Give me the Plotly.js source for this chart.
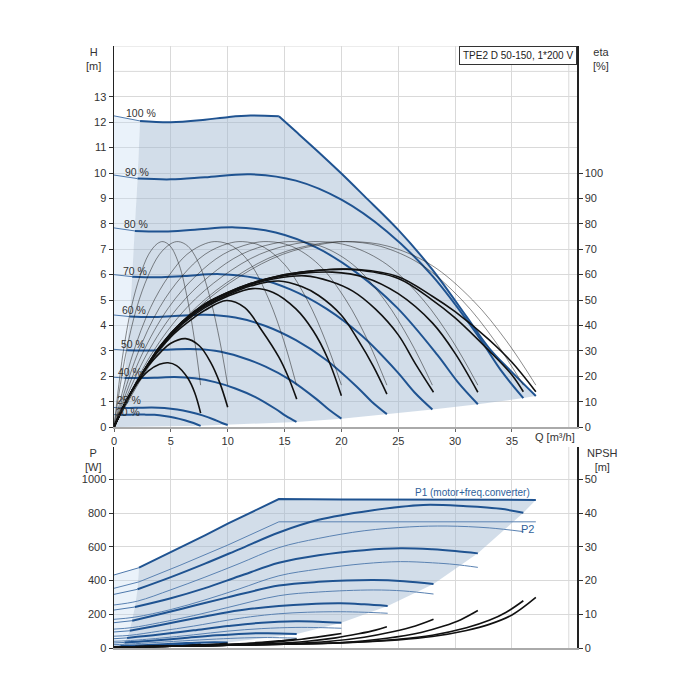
<!DOCTYPE html>
<html><head><meta charset="utf-8">
<script src="https://cdn.plot.ly/plotly-3.0.1.min.js"></script>
<style>html,body{margin:0;padding:0;background:#fff}</style>
</head><body><div id="chart" style="width:700px;height:700px"></div>
<script>
// ---------- TOP: head curves per speed (Q m3/h, H m); index 1 = min-flow boundary ----------
const speedLabels = ["100 %","90 %","80 %","70 %","60 %","50 %","40 %","25 %","20 %"];
const labelQ = [2.4, 2.0, 1.95, 1.85, 1.76, 1.64, 1.41, 1.35, 1.2];
const labelH = [12.37, 10.05, 8.0, 6.16, 4.61, 3.26, 2.18, 1.08, 0.6];

const s100Q = [0, 2.29, 5, 8, 10, 12, 14.5];
const s100H = [12.25, 12.05, 12.0, 12.1, 12.2, 12.26, 12.23];
const maxQ = [14.5, 16, 18, 20, 22, 25, 28, 31, 33, 34.8, 37.1];
const maxH = [12.23, 11.63, 10.82, 9.98, 9.1, 7.76, 6.2, 4.35, 3.1, 2.25, 1.22];
const s90Q = [0, 2.07, 5, 8, 12, 16, 20, 24, 28, 32, 34, 36];
const s90H = [9.92, 9.78, 9.75, 9.83, 9.95, 9.7, 8.95, 7.7, 5.95, 3.6, 2.25, 1.14];
const s80Q = [0, 1.84, 4.44, 7.11, 10.67, 14.22, 17.78, 21.33, 24.89, 28.44, 30.22, 32];
const s80H = [7.84, 7.72, 7.70, 7.77, 7.86, 7.66, 7.07, 6.08, 4.70, 2.84, 1.78, 0.90];
const s70Q = [0, 1.6, 3.89, 6.22, 9.33, 12.44, 15.56, 18.67, 21.78, 24.89, 26.44, 28];
const s70H = [6.0, 5.92, 5.90, 5.95, 6.02, 5.87, 5.41, 4.66, 3.60, 2.18, 1.36, 0.69];
const s60Q = [0, 1.38, 3.33, 5.33, 8, 10.67, 13.33, 16, 18.67, 21.33, 22.67, 24];
const s60H = [4.41, 4.35, 4.33, 4.37, 4.42, 4.31, 3.98, 3.42, 2.64, 1.60, 1.0, 0.51];
const s50Q = [0, 1.15, 2.78, 4.44, 6.67, 8.89, 11.11, 13.33, 15.56, 17.78, 18.89, 20];
const s50H = [3.06, 3.02, 3.01, 3.04, 3.07, 3.0, 2.76, 2.38, 1.84, 1.11, 0.69, 0.33];
const s40Q = [0, 0.92, 2.22, 3.56, 5.33, 7.11, 8.89, 10.67, 12.44, 14.22, 15.11, 16.05];
const s40H = [1.96, 1.93, 1.93, 1.94, 1.97, 1.92, 1.77, 1.52, 1.18, 0.71, 0.44, 0.2];
const s25Q = [0, 0.57, 1.39, 2.22, 3.33, 4.44, 5.56, 6.67, 7.78, 8.89, 9.44, 10];
const s25H = [0.77, 0.75, 0.75, 0.76, 0.77, 0.75, 0.69, 0.59, 0.46, 0.28, 0.17, 0.08];
const s20Q = [0, 0.46, 1.11, 1.78, 2.67, 3.56, 4.44, 5.33, 6.22, 7.0, 7.62];
const s20H = [0.49, 0.48, 0.48, 0.49, 0.49, 0.48, 0.44, 0.37, 0.27, 0.16, 0.05];

// ---------- TOP: total efficiency (thick black, eta %) ----------
const t20Q = [0, 1, 2, 3, 4, 4.75, 5.5, 6.5, 7.1, 7.62];
const t20E = [0, 9.5, 17, 22, 24.7, 25.3, 24.2, 19.2, 13.5, 5.5];
const t25Q = [0, 1, 2, 3, 4, 5, 6.3, 7.5, 8.5, 9.3, 10];
const t25E = [0, 9.5, 17.5, 24, 29, 33, 34.8, 32, 25.5, 17.5, 7.8];
const t40Q = [0, 1, 2, 3, 4, 5, 6, 7, 8, 9.9, 11.5, 13, 14.5, 15.3, 16.07];
const t40E = [0, 9.5, 17.5, 24.5, 30.5, 35.5, 39.5, 43, 46, 49.8, 47, 38, 27.5, 20, 11];
const t50Q = [0, 1, 2, 4, 6, 8, 10, 12.2, 14, 16, 17.5, 18.8, 20];
const t50E = [0, 9.5, 17.5, 31, 40.5, 47, 51.5, 54.5, 53, 46.5, 38, 27, 12.3];
const t60Q = [0, 1, 2, 4, 6, 8, 10, 12, 14.5, 16.5, 18, 20, 21.5, 22.8, 24];
const t60E = [0, 9.5, 17.5, 31, 41, 47.5, 52, 55.5, 57.5, 55.3, 51.8, 44, 34, 24, 13];
const t70Q = [0, 1, 2, 4, 6, 8, 10, 12, 14, 16.8, 19, 21, 23, 25, 26.5, 28.1];
const t70E = [0, 9.5, 17.5, 31.2, 41.2, 48, 52.5, 56, 58.3, 59.5, 57.4, 53.5, 46.4, 36.3, 25, 13.7];
const t80Q = [0, 1, 2, 4, 6, 8, 10, 12, 14, 16.5, 19.2, 22, 25, 28, 30, 32];
const t80E = [0, 9.5, 17.5, 31.3, 41.3, 48.3, 52.8, 56.3, 58.8, 60.5, 61, 59, 52.5, 41, 29, 13.7];
const t90Q = [0, 1, 2, 4, 6, 8, 10, 12, 14, 16.5, 19, 21, 25, 28, 30, 33, 35, 36];
const t90E = [0, 9.5, 17.5, 31.5, 41.5, 48.5, 53, 56.5, 59, 61, 62, 62, 58.5, 50, 43, 30, 20.5, 13.9];
const t100Q = [0, 1, 2, 4, 6, 8, 10, 12, 14, 16.5, 19, 21.5, 25, 28, 30, 33, 35, 37.1];
const t100E = [0, 9.5, 17.5, 31.5, 41.5, 48.5, 53, 56.5, 59, 61, 62, 62, 59.2, 51.5, 45.4, 34.3, 25.5, 13.9];

// ---------- TOP: hydraulic efficiency (thin grey, eta %) ----------
const hydE = [0, 28, 47, 59.5, 68, 72.2, 73, 71.2, 64, 50, 34, 16.5];
const h20Q = [0, 0.76, 1.52, 2.29, 3.05, 3.81, 4.31, 4.95, 5.72, 6.48, 7.09, 7.62];
const h25Q = [0, 1, 2, 3, 4, 5, 5.66, 6.5, 7.5, 8.5, 9.3, 10];
const h40Q = [0, 1.6, 3.21, 4.82, 6.42, 8.03, 9.08, 10.43, 12.04, 13.64, 14.93, 16.05];
const h50Q = [0, 2, 4, 6, 8, 10, 11.32, 13, 15, 17, 18.6, 20];
const h60Q = [0, 2.4, 4.8, 7.2, 9.6, 12, 13.58, 15.6, 18, 20.4, 22.32, 24];
const h70Q = [0, 2.8, 5.6, 8.4, 11.2, 14, 15.85, 18.2, 21, 23.8, 26.04, 28];
const h80Q = [0, 3.2, 6.4, 9.6, 12.8, 16, 18.11, 20.8, 24, 27.2, 29.76, 32];
const h90Q = [0, 3.6, 7.2, 10.8, 14.4, 18, 20.38, 23.4, 27, 30.6, 33.48, 36];
const h100Q = [0, 3.71, 7.42, 11.13, 14.84, 18.55, 21, 24.1, 27.83, 31.54, 34.5, 37.1];

// ---------- BOTTOM: power P1 (thick) and P2 (thin), W ----------
const p1_100Q = [0, 2.2, 4, 5.8, 8, 10.05, 12, 14.5, 20, 25, 30, 37.1];
const p1_100P = [433, 476, 535, 595, 668, 739, 803, 883, 881, 880, 879, 878];
const p2_100Q = [0, 2.2, 5.8, 10, 14.5, 20, 25, 30, 37.1];
const p2_100P = [354, 392, 490, 610, 748, 748, 748, 748, 748];
const p1_90Q = [0, 2.07, 5, 8, 11, 14.5, 18, 22.5, 27.2, 31, 34, 36];
const p1_90P = [318, 348, 420, 500, 585, 685, 760, 814, 848, 840, 825, 802];
const p2_90Q = [0, 2.07, 5, 8, 11, 14.5, 18, 22, 26, 29.3, 33, 36];
const p2_90P = [255, 278, 345, 420, 500, 595, 650, 695, 718, 723, 712, 690];
const p1_80Q = [0, 1.84, 5, 8, 11, 14.5, 18, 22, 25.2, 28, 30, 32];
const p1_80P = [225, 243, 295, 355, 425, 505, 550, 580, 591, 585, 575, 561];
const p2_80Q = [0, 1.84, 5, 8, 11, 14.5, 18, 22, 25.2, 28, 30, 32];
const p2_80P = [170, 183, 228, 285, 350, 428, 468, 500, 512, 505, 495, 478];
const p1_70Q = [0, 1.6, 4, 7, 10, 14.5, 18, 22.8, 25.5, 28.1];
const p1_70P = [150, 162, 200, 250, 300, 370, 392, 403, 396, 379];
const p2_70Q = [0, 1.6, 4, 7, 10, 14.5, 18, 22.8, 25.5, 28.1];
const p2_70P = [112, 121, 150, 192, 240, 310, 332, 344, 338, 320];
const p1_60Q = [0, 1.38, 4, 7, 10, 12, 14.5, 17, 19.9, 22, 24.07];
const p1_60P = [95, 102, 135, 175, 212, 232, 249, 260, 265, 259, 249];
const p2_60Q = [0, 1.38, 4, 7, 10, 12, 14.5, 17, 19.9, 22, 24.07];
const p2_60P = [70, 75, 100, 130, 165, 185, 203, 212, 215, 212, 206];
const p1_50Q = [0, 1.15, 4, 7, 10, 13, 16, 18, 20];
const p1_50P = [55, 60, 80, 105, 130, 150, 158, 156, 150];
const p2_50Q = [0, 1.15, 4, 7, 10, 13, 16, 18, 20];
const p2_50P = [40, 43, 58, 78, 100, 115, 122, 121, 117];
const p1_40Q = [0, 0.92, 3, 6, 9, 11.5, 13.5, 16.07];
const p1_40P = [30, 33, 42, 58, 75, 85, 88, 83];
const p2_40Q = [0, 0.92, 3, 6, 9, 11.5, 13.5, 16.07];
const p2_40P = [20, 22, 30, 42, 53, 60, 62, 58];
const p1_25Q = [0, 0.57, 3, 6, 8, 10];
const p1_25P = [10, 12, 18, 28, 33, 33];
const p2_25Q = [0, 0.57, 3, 6, 8, 10];
const p2_25P = [6, 7, 11, 18, 21, 21];
const p1_20Q = [0, 0.46, 2.5, 5, 7.62];
const p1_20P = [6, 7, 11, 17, 20];
const p2_20Q = [0, 0.46, 2.5, 5, 7.62];
const p2_20P = [3, 4, 6, 10, 12];

// ---------- BOTTOM: NPSH (black, m) ----------
const n100Q = [0, 5, 10, 15, 20, 25, 28, 31, 33, 35, 37.1];
const n100N = [0.3, 0.5, 0.8, 1.1, 1.5, 2.4, 3.4, 5.2, 7.0, 9.8, 15.0];
const n90Q = [0, 5, 10, 15, 20, 25, 28, 31, 33, 34.5, 36];
const n90N = [0.3, 0.5, 0.8, 1.1, 1.55, 2.6, 3.8, 6.0, 8.2, 10.6, 14.0];
const n80Q = [0, 5, 10, 15, 20, 24, 27, 29, 30.5, 32];
const n80N = [0.3, 0.5, 0.8, 1.15, 1.65, 2.9, 4.6, 6.5, 8.4, 11.1];
const n70Q = [0, 5, 10, 15, 19, 22, 24.5, 26.5, 28.1];
const n70N = [0.3, 0.5, 0.85, 1.25, 2.0, 3.2, 4.8, 6.5, 8.5];
const n60Q = [0, 5, 10, 14, 17, 19.5, 21.5, 23, 24];
const n60N = [0.3, 0.5, 0.85, 1.3, 2.0, 3.0, 4.2, 5.3, 6.3];
const n50Q = [0, 5, 9, 12, 14.5, 16.5, 18, 19.2, 20];
const n50N = [0.3, 0.5, 0.85, 1.3, 1.9, 2.6, 3.3, 3.9, 4.3];
const n40Q = [0, 4, 7, 9.5, 11.5, 13, 14.5, 15.5, 16.07];
const n40N = [0.3, 0.45, 0.7, 1.0, 1.35, 1.7, 2.1, 2.4, 2.65];
const n25Q = [0, 3, 5, 6.5, 8, 9, 10];
const n25N = [0.25, 0.4, 0.55, 0.7, 0.95, 1.15, 1.4];
const n20Q = [0, 2.5, 4, 5.5, 6.5, 7.62];
const n20N = [0.25, 0.35, 0.45, 0.6, 0.75, 1.0];

// tick labels
const qTicks = [0, 5, 10, 15, 20, 25, 30, 35];
const hTicks = [0,1,2,3,4,5,6,7,8,9,10,11,12,13];
const etaTicks = [0,10,20,30,40,50,60,70,80,90,100];
const pTicks = [0,200,400,600,800,1000];
const npshTicks = [0,10,20,30,40,50];

// ---------------- build ----------------
const BLUE = "#1f5391", BLUE_THIN = "#4d78ab", P2COL = "#5a82b2";
const FONT = "Liberation Sans, Arial, sans-serif";
const traces = [];
function L(x, y, xa, ya, color, width, shape) {
  traces.push({x: x, y: y, xaxis: xa, yaxis: ya, mode: "lines", type: "scatter",
    line: {color: color, width: width, shape: shape || "spline"}, hoverinfo: "skip", showlegend: false});
}
function F(x, y, xa, ya, color) {
  traces.push({x: x, y: y, xaxis: xa, yaxis: ya, mode: "lines", type: "scatter", fill: "toself",
    fillcolor: color, line: {width: 0, color: color}, hoverinfo: "skip", showlegend: false});
}

const speeds = [[s100Q,s100H],[s90Q,s90H],[s80Q,s80H],[s70Q,s70H],[s60Q,s60H],[s50Q,s50H],[s40Q,s40H],[s25Q,s25H],[s20Q,s20H]];
// boundaries taken from curve data
const lbQ = speeds.map(s => s[0][1]).reverse(), lbH = speeds.map(s => s[1][1]).reverse();
const endsQ = [maxQ[maxQ.length-1]].concat(speeds.slice(1).map(s => s[0][s[0].length-1]));
const endsH = [maxH[maxH.length-1]].concat(speeds.slice(1).map(s => s[1][s[1].length-1]));

// light region (top)
F([0].concat([0, s100Q[1]]).concat(lbQ.slice().reverse()),
  [0].concat([s100H[0], s100H[1]]).concat(lbH.slice().reverse()), "x", "y", "rgba(195,218,241,0.35)");
// operating region (top)
F([0].concat(lbQ.slice(1)).concat(s100Q.slice(2)).concat(maxQ.slice(1)).concat(endsQ.slice(1)).concat([0]),
  [0].concat(lbH.slice(1)).concat(s100H.slice(2)).concat(maxH.slice(1)).concat(endsH.slice(1)).concat([0]),
  "x", "y", "rgba(160,184,208,0.48)");

// thin hydraulic efficiency
[h20Q,h25Q,h40Q,h50Q,h60Q,h70Q,h80Q,h90Q,h100Q].forEach(q => L(q, hydE, "x", "y2", "rgba(30,30,30,0.65)", 0.8));
// thick total efficiency
[[t20Q,t20E],[t25Q,t25E],[t40Q,t40E],[t50Q,t50E],[t60Q,t60E],[t70Q,t70E],[t80Q,t80E],[t90Q,t90E],[t100Q,t100E]]
  .forEach(t => L(t[0], t[1], "x", "y2", "#111", 1.6));
// speed curves
speeds.forEach(s => {
  L(s[0].slice(0,2), s[1].slice(0,2), "x", "y", BLUE_THIN, 1, "linear");
  L(s[0].slice(1), s[1].slice(1), "x", "y", BLUE, 2);
});
L(maxQ, maxH, "x", "y", BLUE, 2);

// ---- bottom ----
const p1 = [[p1_100Q,p1_100P],[p1_90Q,p1_90P],[p1_80Q,p1_80P],[p1_70Q,p1_70P],[p1_60Q,p1_60P],[p1_50Q,p1_50P],[p1_40Q,p1_40P],[p1_25Q,p1_25P],[p1_20Q,p1_20P]];
const p2 = [[p2_100Q,p2_100P],[p2_90Q,p2_90P],[p2_80Q,p2_80P],[p2_70Q,p2_70P],[p2_60Q,p2_60P],[p2_50Q,p2_50P],[p2_40Q,p2_40P],[p2_25Q,p2_25P],[p2_20Q,p2_20P]];
const blbQ = p1.map(s => s[0][1]).reverse(), blbP = p1.map(s => s[1][1]).reverse();
const bendQ = p1.map(s => s[0][s[0].length-1]), bendP = p1.map(s => s[1][s[1].length-1]);
F([0, 0, p1_100Q[1]].concat(blbQ.slice().reverse()), [0, p1_100P[0], p1_100P[1]].concat(blbP.slice().reverse()),
  "x2", "y3", "rgba(195,218,241,0.35)");
F([0].concat(blbQ).concat(p1_100Q.slice(2)).concat(bendQ.slice(1)).concat([0]),
  [0].concat(blbP).concat(p1_100P.slice(2)).concat(bendP.slice(1)).concat([0]),
  "x2", "y3", "rgba(160,184,208,0.48)");
p2.forEach((s, i) => L(s[0], s[1], "x2", "y3", P2COL, 1, i === 0 ? "linear" : "spline"));
p1.forEach((s, i) => {
  L(s[0].slice(0,2), s[1].slice(0,2), "x2", "y3", BLUE_THIN, 1, "linear");
  L(s[0].slice(1), s[1].slice(1), "x2", "y3", BLUE, 2, i === 0 ? "linear" : "spline");
});
[[n20Q,n20N],[n25Q,n25N],[n40Q,n40N],[n50Q,n50N],[n60Q,n60N],[n70Q,n70N],[n80Q,n80N],[n90Q,n90N],[n100Q,n100N]]
  .forEach(n => L(n[0], n[1], "x2", "y4", "#111", 1.6));

const tickFont = {family: FONT, size: 11, color: "#333"};
const GRID = "#d9d9d9";
const annotations = [
  {text: "TPE2 D 50-150, 1*200 V", xref: "paper", yref: "paper", x: 1, y: 1, xanchor: "right", yanchor: "top",
   showarrow: false, bordercolor: "#333", borderwidth: 1, borderpad: 3, bgcolor: "#fff", font: {family: FONT, size: 10, color: "#222"}},
  {text: "H<br>[m]", xref: "paper", yref: "paper", x: -0.045, y: 1.003, xanchor: "center", yanchor: "top", showarrow: false, font: tickFont},
  {text: "eta<br>[%]", xref: "paper", yref: "paper", x: 1.052, y: 1.003, xanchor: "center", yanchor: "top", showarrow: false, font: tickFont},
  {text: "Q [m³/h]", xref: "paper", yref: "paper", x: 1, y: 0.3505, xanchor: "right", yanchor: "middle", showarrow: false, font: tickFont},
  {text: "P<br>[W]", xref: "paper", yref: "paper", x: -0.045, y: 0.338, xanchor: "center", yanchor: "top", showarrow: false, font: tickFont},
  {text: "NPSH<br>[m]", xref: "paper", yref: "paper", x: 1.055, y: 0.338, xanchor: "center", yanchor: "top", showarrow: false, font: tickFont},
  {text: "P1 (motor+freq.converter)", xref: "x2", yref: "y3", x: 31.5, y: 921, showarrow: false, font: {family: FONT, size: 10, color: "#2f5f9a"}},
  {text: "P2", xref: "x2", yref: "y3", x: 36.4, y: 708, showarrow: false, font: {family: FONT, size: 11, color: "#2f5f9a"}}
];
speedLabels.forEach((t, i) => annotations.push({text: t, xref: "x", yref: "y", x: labelQ[i], y: labelH[i],
  showarrow: false, font: {family: FONT, size: 10.5, color: "#333"}}));

const shapes = [
  {type: "line", xref: "x", yref: "y", x0: 40, x1: 40, y0: 0, y1: 15, line: {color: GRID, width: 1}, layer: "below"},
  {type: "line", xref: "x", yref: "y", x0: 0, x1: 40.72, y0: 14, y1: 14, line: {color: GRID, width: 1}, layer: "below"},
  {type: "line", xref: "x", yref: "y", x0: 0, x1: 40.72, y0: 15, y1: 15, line: {color: GRID, width: 1}, layer: "below"},
  {type: "line", xref: "x2", yref: "y3", x0: 40, x1: 40, y0: 0, y1: 1192, line: {color: GRID, width: 1}, layer: "below"}
];

const xCommon = {range: [0, 40.72], showgrid: true, gridcolor: GRID, gridwidth: 1, zeroline: false,
  showline: true, linecolor: "#aaa", linewidth: 2, ticks: "outside", ticklen: 3, tickcolor: "#666",
  tickvals: qTicks, tickfont: tickFont};
const layout = {
  width: 700, height: 700, margin: {l: 114, r: 123, t: 46, b: 52},
  paper_bgcolor: "#fff", plot_bgcolor: "#fff", showlegend: false, font: {family: FONT},
  xaxis: Object.assign({}, xCommon, {anchor: "y", domain: [0, 1]}),
  xaxis2: Object.assign({}, xCommon, {anchor: "y3", domain: [0, 1], showticklabels: false, ticks: ""}),
  yaxis: {domain: [0.367, 1], range: [0, 15], anchor: "x", tickvals: hTicks, showgrid: true, gridcolor: GRID,
    zeroline: false, showline: true, linecolor: "#222", linewidth: 1.5, ticks: "outside", ticklen: 4, tickcolor: "#333", tickfont: tickFont},
  yaxis2: {overlaying: "y", side: "right", anchor: "x", range: [0, 150], tickvals: etaTicks, showgrid: false, zeroline: false,
    showline: true, linecolor: "#222", linewidth: 1.5, ticks: "outside", ticklen: 4, tickcolor: "#333", tickfont: tickFont},
  yaxis3: {domain: [0, 0.334], range: [0, 1192], anchor: "x2", tickvals: pTicks, showgrid: true, gridcolor: GRID,
    zeroline: false, showline: true, linecolor: "#222", linewidth: 1.5, ticks: "outside", ticklen: 4, tickcolor: "#333", tickfont: tickFont},
  yaxis4: {overlaying: "y3", side: "right", anchor: "x2", range: [0, 59.6], tickvals: npshTicks, showgrid: false, zeroline: false,
    showline: true, linecolor: "#222", linewidth: 1.5, ticks: "outside", ticklen: 4, tickcolor: "#333", tickfont: tickFont},
  annotations: annotations, shapes: shapes
};
Plotly.newPlot("chart", traces, layout, {staticPlot: true, displayModeBar: false});
</script></body></html>
